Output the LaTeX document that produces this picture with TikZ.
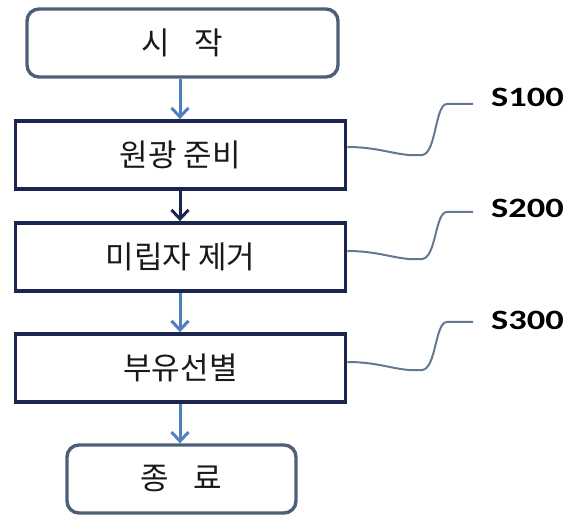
\documentclass[tikz,border=0pt]{standalone}
\usepackage{fontspec}
\newfontfamily\kr{Noto Sans CJK KR}
\newfontfamily\labfont[FakeStretch=1.3]{Carlito}
\usetikzlibrary{arrows.meta}
\definecolor{termline}{RGB}{75,96,118}
\definecolor{navy}{RGB}{26,38,80}
\definecolor{arrblue}{RGB}{79,129,189}
\definecolor{curvecol}{RGB}{100,120,148}
\definecolor{txt}{RGB}{25,25,25}
\tikzset{
  termbox/.style={draw=termline, line width=3.4pt, rounded corners=12pt, minimum height=68pt, inner sep=0pt, font=\kr\fontsize{31}{36}\selectfont, text=txt},
  procbox/.style={draw=navy, line width=3.8pt, minimum width=330pt, minimum height=68pt, inner sep=0pt, font=\kr\fontsize{31}{36}\selectfont, text=txt},
  flowarr/.style={draw=arrblue, line width=3pt, -{Straight Barb[length=9pt,width=17pt,line width=3pt]}},
  darkarr/.style={flowarr, draw=navy},
  steplabel/.style={anchor=west, inner sep=0pt, font=\labfont\bfseries\fontsize{28}{32}\selectfont, text=black},
  leader/.style={draw=curvecol, line width=2pt}
}
\begin{document}
\begin{tikzpicture}[x=1pt,y=-1pt]
\useasboundingbox (0,0) rectangle (568,518);
\node[termbox, minimum width=311pt] (start) at (182.5,43) {시\hspace{0.8em}작};
\node[procbox] (b1) at (180.5,155) {원광 준비};
\node[procbox] (b2) at (180.5,257) {미립자 제거};
\node[procbox] (b3) at (180.5,368) {부유선별};
\node[termbox, minimum width=229pt] (end) at (181.5,479) {종\hspace{0.8em}료};

\draw[flowarr] (start.south -| 180,0) -- (b1.north -| 180,0);
\draw[darkarr] (b1.south -| 180,0) -- (b2.north -| 180,0);
\draw[flowarr] (b2.south -| 180,0) -- (b3.north -| 180,0);
\draw[flowarr] (b3.south -| 180,0) -- (end.north -| 180,0);

\node[steplabel] (l1) at (491,97) {S100};
\node[steplabel] (l2) at (491,208) {S200};
\node[steplabel] (l3) at (491,320) {S300};

\coordinate (e1) at (473,104);
\coordinate (e2) at (473,212);
\coordinate (e3) at (473,322);

\draw[leader] ([yshift=8pt]b1.east) .. controls +(35,0) and +(-25,2) .. ++(75,8)
  .. controls +(14,-2) and +(-12,0) .. (e1 -| 447,0) -- (e1);
\draw[leader] ([yshift=6pt]b2.east) .. controls +(35,0) and +(-25,2) .. ++(75,8)
  .. controls +(14,-2) and +(-12,0) .. (e2 -| 447,0) -- (e2);
\draw[leader] ([yshift=6pt]b3.east) .. controls +(35,0) and +(-25,2) .. ++(75,8)
  .. controls +(14,-2) and +(-12,0) .. (e3 -| 447,0) -- (e3);
\end{tikzpicture}
\end{document}
